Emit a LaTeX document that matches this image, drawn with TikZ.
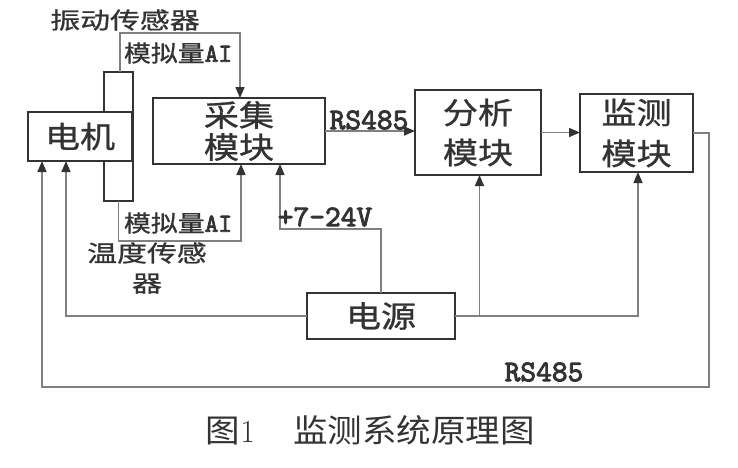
\documentclass[tikz,border=0pt]{standalone}
\usepackage{fontspec}
\newfontfamily\cjkA[FakeStretch=1.17,FakeBold=0.9]{Noto Sans CJK SC}
\newfontfamily\cjkS[FakeStretch=1.3,FakeBold=0.9]{Noto Sans CJK SC}
\newfontfamily\cjkC[FakeStretch=1.08]{Noto Sans CJK SC}
\newfontfamily\lat{lmmono10-regular}[Extension=.otf,FakeBold=3]
\usetikzlibrary{arrows.meta}
\definecolor{ln}{gray}{0.5}
\definecolor{bx}{gray}{0.2}
\begin{document}
\begin{tikzpicture}[x=1pt,y=-1pt,
  box/.style={draw=bx, line width=2.2pt, fill=white, inner sep=0pt, outer sep=0pt, align=center, text=bx},
  wire/.style={draw=ln, line width=1.5pt},
  arr/.style={wire, -{Triangle[length=11pt,width=9pt,color=bx]}},
  bt/.style={font={\cjkA\fontsize{30}{32}\selectfont}},
  sens/.style={text=bx, align=center, inner sep=0pt, font={\cjkS\fontsize{23}{30}\selectfont}},
  ailbl/.style={text=bx, inner sep=0pt, font={\cjkA\fontsize{23}{26}\selectfont}},
  latlbl/.style={text=bx, inner sep=0pt, font={\lat\fontsize{30}{32}\selectfont}}]
\useasboundingbox[fill=white] (0,0) rectangle (738,467);

% boxes
\node[box, minimum width=29pt, minimum height=129pt] (bar) at (118.5,136.5) {};
\node[box, bt, minimum width=104pt, minimum height=49pt] (motor) at (80,136.5) {电机};
\node[box, bt, minimum width=172pt, minimum height=66pt] (coll) at (239,131) {采集\\模块};
\node[box, font={\cjkA\fontsize{30}{40}\selectfont}, minimum width=126pt, minimum height=85pt] (ana) at (478,132.5) {分析\\模块};
\node[box, font={\cjkA\fontsize{30}{41}\selectfont}, minimum width=113pt, minimum height=78pt] (mon) at (636.5,133) {监测\\模块};
\node[box, bt, minimum width=148pt, minimum height=46pt] (pow) at (381,316) {电源};

% coordinates for bends
\coordinate (t1) at (240,33);
\coordinate (b1) at (241,241);
\coordinate (p1) at (280,229);
\coordinate (r1) at (709,387);

% sensor connectors
\draw[arr] ([xshift=1.5pt]bar.north) |- (t1) -- (t1 |- coll.north);
\draw[arr] (bar.south) |- (b1) -- (b1 |- coll.south);

% data connectors
\draw[arr] (coll.east) -- (coll.east -| ana.west);
\draw[arr] (ana.east) -- (ana.east -| mon.west);

% power connectors
\draw[arr] (pow.north) |- (p1) -- (p1 |- coll.south);
\draw[arr] (pow.west) -| ([xshift=-14pt]motor.south);
\draw[arr] (pow.east) -| ([xshift=1.5pt]ana.south);
\draw[arr] (pow.east) -| ([xshift=1.5pt]mon.south);

% RS485 loop
\draw[arr] (mon.east) -| (r1) -| ([xshift=-38pt]motor.south);

% labels
\node[sens] (lvib) at (125,20) {振动传感器};
\node[ailbl] (lai1) at (178,53) {模拟量{\lat\fontsize{26}{28}\selectfont AI}};
\node[ailbl] (lai2) at (178,223) {模拟量{\lat\fontsize{26}{28}\selectfont AI}};
\node[sens] (ltemp) at (147,268) {温度传感\\器};
\node[latlbl] (lrs1) at (369,120) {RS485};
\node[latlbl] (lv) at (325,217) {+7-24V};
\node[latlbl] (lrs2) at (544,372) {RS485};

% caption
\node[text=bx, inner sep=0pt, font={\cjkC\fontsize{32}{34}\selectfont}] (cap) at (370.5,430) {图{\rmfamily 1}\hspace{38pt}监测系统原理图};
\end{tikzpicture}
\end{document}
